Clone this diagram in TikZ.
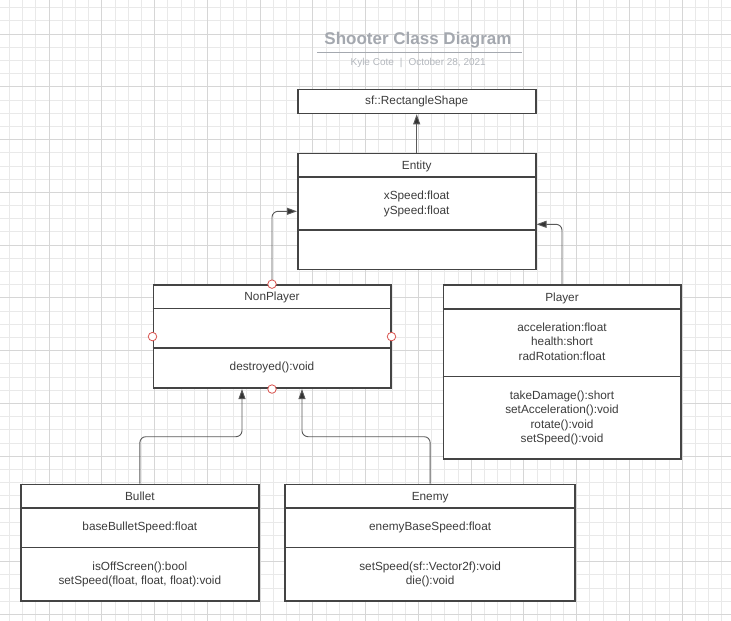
\documentclass[tikz,border=0pt]{standalone}
\usepackage{fontspec}
\setmainfont{Liberation Sans}
\usetikzlibrary{arrows.meta}
\definecolor{gridminor}{HTML}{E9E9E9}
\definecolor{gridmajor}{HTML}{D6D6D6}
\definecolor{boxc}{HTML}{444444}
\definecolor{txt}{HTML}{3C3C3C}
\definecolor{connc}{HTML}{5A5A5A}
\definecolor{arrc}{HTML}{333333}
\definecolor{titlec}{HTML}{A4A8AF}
\definecolor{subc}{HTML}{B3B7BD}
\definecolor{markc}{HTML}{D9534F}
\newcommand\memfont{\fontsize{11.8}{14.5}\selectfont}
\begin{document}
\begin{tikzpicture}[x=1pt,y=-1pt,
  cls/.style={draw=boxc, line width=1.6pt, fill=white, inner sep=0pt, rectangle},
  sepline/.style={draw=boxc, line width=1.4pt},
  hdr/.style={anchor=base, inner sep=0pt, font=\memfont, text=txt},
  memb/.style={anchor=north, inner sep=0pt, align=center, font=\memfont, text=txt},
  conn/.style={draw=connc, line width=0.9pt, rounded corners=6pt,
    -{Triangle[length=10pt,width=7pt,fill=arrc]}},
  cpoint/.style={circle, draw=markc, fill=white, line width=0.8pt, minimum size=8.5pt, inner sep=0pt}
]
\useasboundingbox (0,0) rectangle (731,621);
\fill[white] (0,0) rectangle (731,621);
% grid
\foreach \i in {0,...,54} {\draw[gridminor, line width=0.7pt] ({9.4+13.19*\i},0) -- ({9.4+13.19*\i},621);}
\foreach \i in {0,...,46} {\draw[gridminor, line width=0.7pt] (0,{7.6+13.19*\i}) -- (731,{7.6+13.19*\i});}
\foreach \i in {0,...,12} {\draw[gridmajor, line width=0.8pt] ({49+52.76*\i},0) -- ({49+52.76*\i},621);}
\foreach \i in {0,...,11} {\draw[gridmajor, line width=0.8pt] (0,{34+52.76*\i}) -- (731,{34+52.76*\i});}

% title
\node[inner sep=0pt, font=\fontsize{17}{20}\selectfont\bfseries, text=titlec] (title) at (418,40.5) {Shooter Class Diagram};
\coordinate (ulL) at (317.3,52.3);
\coordinate (ulR) at (522.3,52.3);
\draw[titlec, line width=1.1pt] (ulL) -- (ulR);
\node[inner sep=0pt, font=\fontsize{10}{12}\selectfont, text=subc] (subtitle) at (418.2,63.3) {Kyle Cote\hspace{6pt}|\hspace{6pt}October 28, 2021};

% classes
\node[cls, minimum width=238pt, minimum height=24pt, font=\memfont, text=txt] (rect) at (416.7,101.5) {sf::RectangleShape};

\node[cls, minimum width=238pt, minimum height=116pt] (entity) at (416.7,211.3) {};
\draw[sepline] ([yshift=-24.6pt]entity.north west) -- ([yshift=-24.6pt]entity.north east);
\draw[sepline] ([yshift=-77.4pt]entity.north west) -- ([yshift=-77.4pt]entity.north east);
\node[hdr] (entityname) at ([yshift=-16.8pt]entity.north) {Entity};
\node[memb] (entityattr) at ([yshift=-38.4pt]entity.north) {xSpeed:float\\ySpeed:float};

\node[cls, minimum width=237.4pt, minimum height=103.3pt] (nonplayer) at (272,336.6) {};
\draw[sepline] ([yshift=-24.6pt]nonplayer.north west) -- ([yshift=-24.6pt]nonplayer.north east);
\draw[sepline] ([yshift=-64pt]nonplayer.north west) -- ([yshift=-64pt]nonplayer.north east);
\node[hdr] (nonplayername) at ([yshift=-16.8pt]nonplayer.north) {NonPlayer};
\node[memb] (nonplayermeth) at ([yshift=-77.8pt]nonplayer.north) {destroyed():void};

\node[cls, minimum width=237.4pt, minimum height=174pt] (player) at (562,372) {};
\draw[sepline] ([yshift=-24.6pt]player.north west) -- ([yshift=-24.6pt]player.north east);
\draw[sepline] ([yshift=-92.3pt]player.north west) -- ([yshift=-92.3pt]player.north east);
\node[hdr] (playername) at ([yshift=-16.8pt]player.north) {Player};
\node[memb] (playerattr) at ([yshift=-38.4pt]player.north) {acceleration:float\\health:short\\radRotation:float};
\node[memb] (playermeth) at ([yshift=-106.1pt]player.north) {takeDamage():short\\setAcceleration():void\\rotate():void\\setSpeed():void};

\node[cls, minimum width=237.7pt, minimum height=116.4pt] (bullet) at (139.85,542.5) {};
\draw[sepline] ([yshift=-24.6pt]bullet.north west) -- ([yshift=-24.6pt]bullet.north east);
\draw[sepline] ([yshift=-64pt]bullet.north west) -- ([yshift=-64pt]bullet.north east);
\node[hdr] (bulletname) at ([yshift=-16.8pt]bullet.north) {Bullet};
\node[memb] (bulletattr) at ([yshift=-38.4pt]bullet.north) {baseBulletSpeed:float};
\node[memb] (bulletmeth) at ([yshift=-77.8pt]bullet.north) {isOffScreen():bool\\setSpeed(float, float, float):void};

\node[cls, minimum width=290.1pt, minimum height=116.4pt] (enemy) at (430.15,542.5) {};
\draw[sepline] ([yshift=-24.6pt]enemy.north west) -- ([yshift=-24.6pt]enemy.north east);
\draw[sepline] ([yshift=-64pt]enemy.north west) -- ([yshift=-64pt]enemy.north east);
\node[hdr] (enemyname) at ([yshift=-16.8pt]enemy.north) {Enemy};
\node[memb] (enemyattr) at ([yshift=-38.4pt]enemy.north) {enemyBaseSpeed:float};
\node[memb] (enemymeth) at ([yshift=-77.8pt]enemy.north) {setSpeed(sf::Vector2f):void\\die():void};

% connectors
\coordinate (elbow) at (0,436.7);
\draw[conn] (entity.north) -- (rect.south);
\draw[conn] (nonplayer.north) |- (entity.west);
\draw[conn] (player.north) |- ([yshift=-13pt]entity.east);
\draw[conn] (bullet.north) -- (bullet.north |- elbow) -| ([xshift=-30pt]nonplayer.south);
\draw[conn] (enemy.north) -- (enemy.north |- elbow) -| ([xshift=30pt]nonplayer.south);

% connection point markers
\node[cpoint] (cpn) at (nonplayer.north) {};
\node[cpoint] (cps) at (nonplayer.south) {};
\node[cpoint] (cpw) at (nonplayer.west) {};
\node[cpoint] (cpe) at (nonplayer.east) {};
\end{tikzpicture}
\end{document}
